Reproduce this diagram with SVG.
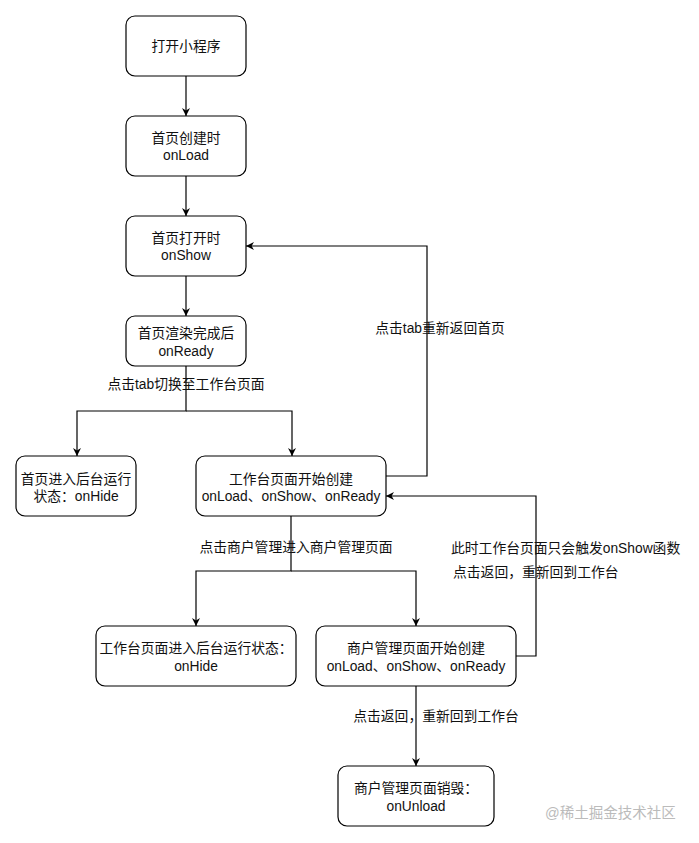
<svg xmlns="http://www.w3.org/2000/svg" width="699" height="843" viewBox="0 0 699 843">
<style>
.n rect{fill:#fff;stroke:#000;stroke-width:1.2}
text{font-family:"Liberation Sans","Noto Sans CJK SC",sans-serif;font-size:13.8px;fill:#111}
.c{text-anchor:middle}
.e{fill:none;stroke:#000;stroke-width:1.2;marker-end:url(#a)}
.wm{fill:#bbb;font-size:14.5px}
</style>
<defs>
<marker id="a" viewBox="0 0 10 10" refX="10" refY="5" markerWidth="8" markerHeight="8" markerUnits="userSpaceOnUse" orient="auto">
<path d="M0,0 L10,5 L0,10 L3,5 z" fill="#000"/>
</marker>
</defs>
<rect width="699" height="843" fill="#fff"/>
<g id="edges">
<path class="e" d="M186,76 V116"/>
<path class="e" d="M186,176 V216"/>
<path class="e" d="M186,276 V316"/>
<path class="e" d="M186,366 V411 H77 V456"/>
<path class="e" d="M186,411 H292 V456"/>
<path class="e" d="M386,476 H427 V246 H246"/>
<path class="e" d="M291,516 V571 H196 V626"/>
<path class="e" d="M291,571 H416 V626"/>
<path class="e" d="M516,656 H536 V496 H386"/>
<path class="e" d="M416,686 V766"/>
<text class="c" x="186" y="389">点击tab切换至工作台页面</text>
<text class="c" x="440" y="333">点击tab重新返回首页</text>
<text class="c" x="296" y="552">点击商户管理进入商户管理页面</text>
<text x="451" y="553">此时工作台页面只会触发onShow函数</text>
<text x="453" y="577">点击返回，重新回到工作台</text>
<text class="c" x="436" y="721">点击返回，重新回到工作台</text>
</g>
<g id="n1" class="n"><rect x="126" y="16" width="120" height="60" rx="9"/><text class="c" x="186" y="51">打开小程序</text></g>
<g id="n2" class="n"><rect x="126" y="116" width="120" height="60" rx="9"/><text class="c" x="186" y="143">首页创建时</text><text class="c" x="186" y="160">onLoad</text></g>
<g id="n3" class="n"><rect x="126" y="216" width="120" height="60" rx="9"/><text class="c" x="186" y="243">首页打开时</text><text class="c" x="186" y="260">onShow</text></g>
<g id="n4" class="n"><rect x="126" y="316" width="120" height="50" rx="9"/><text class="c" x="186" y="338">首页渲染完成后</text><text class="c" x="186" y="356">onReady</text></g>
<g id="n5" class="n"><rect x="16" y="456" width="120" height="60" rx="9"/><text class="c" x="76" y="484">首页进入后台运行</text><text class="c" x="76" y="501">状态：onHide</text></g>
<g id="n6" class="n"><rect x="196" y="456" width="190" height="60" rx="9"/><text class="c" x="291" y="484">工作台页面开始创建</text><text class="c" x="291" y="501">onLoad、onShow、onReady</text></g>
<g id="n7" class="n"><rect x="96" y="626" width="200" height="60" rx="9"/><text class="c" x="196" y="653">工作台页面进入后台运行状态：</text><text class="c" x="196" y="671">onHide</text></g>
<g id="n8" class="n"><rect x="316" y="626" width="200" height="60" rx="9"/><text class="c" x="416" y="653">商户管理页面开始创建</text><text class="c" x="416" y="671">onLoad、onShow、onReady</text></g>
<g id="n9" class="n"><rect x="338" y="766" width="156" height="60" rx="9"/><text class="c" x="416" y="793">商户管理页面销毁：</text><text class="c" x="416" y="811">onUnload</text></g>
<text class="wm" x="545" y="818">@稀土掘金技术社区</text>
</svg>
